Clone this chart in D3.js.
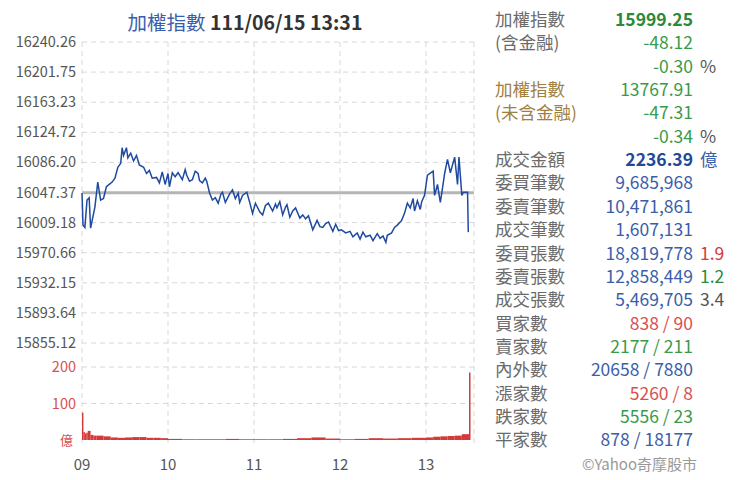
<!DOCTYPE html>
<html><head><meta charset="utf-8">
<script src="https://cdn.jsdelivr.net/npm/d3@7"></script>
<style>body{margin:0;background:#fff}text{font-family:"Noto Sans CJK TC","Open Sans",sans-serif}</style>
</head><body><svg id="c" width="740" height="480"></svg>
<script>
const yTicks=[16240.26,16201.75,16163.23,16124.72,16086.20,16047.37,16009.18,15970.66,15932.15,15893.64,15855.12];
const prevClose=16047.37;
const hourLabels=["09","10","11","12","13"];
const priceMin=[0,0.7,2,3.5,5,6,9,11,13,15,17,19,21,23,25,27,28,29,31,32,34,36,38,40,43,45,47,49,52,54,56,58,60,61,63,65,67,70,72,73,75,77,79,81,82,84,86,87,89,91,93,95,97,98,100,103,105,107,109,110,112,115,117,119,121,124,126,128,130,133,135,136,138,140,142,143,145,147,149,152,154,156,158,161,164,166,168,170,172,175,177,179,181,184,187,189,192,194,196,198,201,203,206,208,210,212,213,216,218,220,223,225,227,229,231,232,234,236,237,239,241,245,246,248,250,251,253,255,257,260,262,263,265,266,269,269.5,271];
const priceVal=[16047,16006,16003,16038,16041,16002,16029,16061,16038,16040,16055,16058,16061,16066,16080,16085,16105,16095,16105,16092,16098,16088,16095,16083,16080,16072,16076,16066,16067,16060,16074,16058,16072,16055,16073,16068,16073,16064,16077,16070,16062,16064,16075,16072,16063,16060,16066,16062,16047,16038,16041,16034,16046,16048,16035,16046,16051,16040,16047,16035,16044,16048,16035,16021,16034,16023,16019,16031,16034,16024,16033,16028,16036,16019,16029,16032,16016,16024,16028,16015,16019,16014,16018,16000,16012,16004,16003,16008,16010,15998,16007,15999,16000,15996,15998,15991,15996,15988,15997,15991,15993,15986,15995,15989,15992,15984,15993,15996,16003,16006,16012,16021,16034,16028,16040,16024,16037,16026,16036,16044,16070,16075,16044,16058,16035,16047,16072,16090,16073,16093,16058,16093,16044,16048,16048,15997];
const volBucketStart=[0,1,2,3,4,6,8,10,15,20,25,30,35,40,45,50,55,60,70,80,90,100,110,120,130,140,150,160,170,180,190,200,210,220,230,240,245,250,255,260,265,270];
const volBucketVal=[75,22,18,20,25,14,12,12,10,7,6,7,8,8,6,6,5,3,2,2,2,3,2,2,2,3,5,7,4,2,3,5,4,5,6,7,9,10,11,12,16,185];
const side=[
 ["加權指數","15999.25","", "#6b6b6b","#2a8a3a",true,""],
 ["(含金融)","-48.12","","#6b6b6b","#3a9a4a",false,""],
 ["","-0.30","%","#6b6b6b","#3a9a4a",false,"#555"],
 ["加權指數","13767.91","","#a08040","#3a9a4a",false,""],
 ["(未含金融)","-47.31","","#a08040","#3a9a4a",false,""],
 ["","-0.34","%","#6b6b6b","#3a9a4a",false,"#555"],
 ["成交金額","2236.39","億","#6b6b6b","#1f4a9a",true,"#3a5eaa"],
 ["委買筆數","9,685,968","","#6b6b6b","#3a5eaa",false,""],
 ["委賣筆數","10,471,861","","#6b6b6b","#3a5eaa",false,""],
 ["成交筆數","1,607,131","","#6b6b6b","#3a5eaa",false,""],
 ["委買張數","18,819,778","1.9","#6b6b6b","#3a5eaa",false,"#d43a3a"],
 ["委賣張數","12,858,449","1.2","#6b6b6b","#3a5eaa",false,"#2a8a3a"],
 ["成交張數","5,469,705","3.4","#6b6b6b","#3a5eaa",false,"#555"],
 ["買家數","838 / 90","","#6b6b6b","#d85050",false,""],
 ["賣家數","2177 / 211","","#6b6b6b","#3a9a4a",false,""],
 ["內外數","20658 / 7880","","#6b6b6b","#3a5eaa",false,""],
 ["漲家數","5260 / 8","","#6b6b6b","#d85050",false,""],
 ["跌家數","5556 / 23","","#6b6b6b","#3a9a4a",false,""],
 ["平家數","878 / 18177","","#6b6b6b","#3a5eaa",false,""]
];
const svg=d3.select("#c");
const x=d3.scaleLinear().domain([0,270]).range([82,469]);
const y=d3.scaleLinear().domain([15855.12,16240.26]).range([343,42]);
const yv=d3.scaleLinear().domain([0,200]).range([440,367]);
const grid="#d8d8d8";
svg.append("g").selectAll("line").data(yTicks).join("line").attr("x1",82).attr("x2",474).attr("y1",d=>y(d)).attr("y2",d=>y(d)).attr("stroke",grid).attr("stroke-dasharray","5,4");
svg.append("g").selectAll("line").data([200,100]).join("line").attr("x1",82).attr("x2",474).attr("y1",d=>yv(d)).attr("y2",d=>yv(d)).attr("stroke",grid).attr("stroke-dasharray","5,4");
svg.append("g").selectAll("line").data(d3.range(0,5).map(i=>i*60).concat([287])).join("line").attr("x1",d=>d>280?474:x(d)).attr("x2",d=>d>280?474:x(d)).attr("y1",42).attr("y2",445).attr("stroke",grid).attr("stroke-dasharray","5,4");
svg.append("g").selectAll("text").data(yTicks).join("text").attr("x",76).attr("y",d=>y(d)+5).attr("text-anchor","end").attr("font-size",14.5).attr("fill","#555").text(d=>d.toFixed(2));
svg.append("g").selectAll("text").data([200,100]).join("text").attr("x",76).attr("y",d=>yv(d)+5).attr("text-anchor","end").attr("font-size",14.5).attr("fill","#d85050").text(d=>d);
svg.append("text").attr("x",73).attr("y",445).attr("text-anchor","end").attr("font-size",13).attr("fill","#d85050").text("億");
svg.append("g").selectAll("text").data(hourLabels).join("text").attr("x",(d,i)=>x(i*60)).attr("y",470).attr("text-anchor","middle").attr("font-size",15).attr("fill","#555").text(d=>d);
svg.append("line").attr("x1",82).attr("x2",474).attr("y1",y(prevClose)).attr("y2",y(prevClose)).attr("stroke","#b5b5b5").attr("stroke-width",3);
svg.append("g").selectAll("rect").data(volBucketStart).join("rect")
 .attr("x",(d,i)=>x(d)).attr("width",(d,i)=>i==volBucketStart.length-1?1.5:Math.max(1,x(volBucketStart[i+1])-x(d)))
 .attr("y",(d,i)=>yv(volBucketVal[i])).attr("height",(d,i)=>yv(0)-yv(volBucketVal[i])).attr("fill","#d43a3a");
svg.append("path").datum(priceMin.map((m,i)=>[m,priceVal[i]])).attr("d",d3.line().x(d=>x(d[0])).y(d=>y(d[1]))).attr("fill","none").attr("stroke","#1f4aa0").attr("stroke-width",1.5);
const t=svg.append("text").attr("x",245).attr("y",30).attr("text-anchor","middle").attr("font-size",19.5);
t.append("tspan").attr("fill","#3a5eaa").text("加權指數 ");
t.append("tspan").attr("fill","#333").attr("font-weight","bold").text("111/06/15 13:31");
const rows=svg.append("g").selectAll("g").data(side).join("g").attr("transform",(d,i)=>`translate(0,${26+i*23.35})`);
rows.append("text").attr("x",495).attr("font-size",17.5).attr("fill",d=>d[3]).text(d=>d[0]);
rows.append("text").attr("x",693).attr("text-anchor","end").attr("font-size",17.5).attr("font-weight",d=>d[5]?"bold":"normal").attr("fill",d=>d[4]).text(d=>d[1]);
rows.append("text").attr("x",700).attr("font-size",17.5).attr("fill",d=>d[6]).text(d=>d[2]);
svg.append("text").attr("x",697).attr("y",470).attr("text-anchor","end").attr("font-size",15).attr("fill","#999").text("©Yahoo奇摩股市");
</script></body></html>
